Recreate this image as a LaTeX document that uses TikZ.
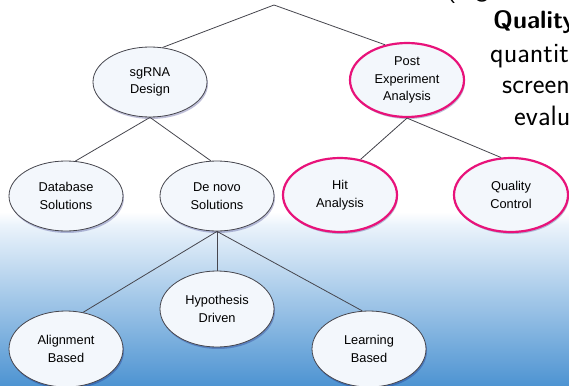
\documentclass[tikz,border=0pt]{standalone}
\usepackage{fontspec}
\newfontfamily\nodefont{Liberation Sans}
\usetikzlibrary{shapes.geometric,shadows}
\definecolor{pinkb}{RGB}{232,18,122}
\definecolor{nfill}{RGB}{243,247,252}
\definecolor{bluetop}{RGB}{238,245,252}
\definecolor{bluebot}{RGB}{78,148,210}
\definecolor{edgec}{RGB}{70,70,78}
\tikzset{
  bub/.style={ellipse, draw=edgec, line width=0.8pt, fill=nfill,
    minimum width=114pt, minimum height=70pt, inner sep=0pt, align=center,
    font=\nodefont\fontsize{12.8}{17.5}\selectfont,
    drop shadow={shadow xshift=1pt, shadow yshift=-2pt, opacity=0.25, fill=black!60!blue}},
  pinkbub/.style={bub, draw=pinkb, line width=2.2pt, minimum height=74pt},
  conn/.style={draw=edgec, line width=0.8pt},
  side/.style={anchor=base west, inner sep=0pt, font=\sffamily\fontsize{28}{32}\selectfont}
}
\begin{document}
\begin{tikzpicture}[x=1pt,y=-1pt]
\useasboundingbox (0,0) rectangle (569,385);
\clip (0,0) rectangle (569,385);
\fill[white] (0,0) rectangle (569,222);
\shade[top color=bluetop, bottom color=bluebot] (0,222) rectangle (569,385);
\shade[top color=white, bottom color=bluetop] (0,212) rectangle (569,223);

\node[side] (eg) at (446,-3) {(e.g.};
\node[side, font=\sffamily\bfseries\fontsize{25}{32}\selectfont] (qual) at (493,29) {Quality};
\node[side] (quant) at (490,63) {quantit};
\node[side] (scr) at (502,94) {screen};
\node[side] (eva) at (514,125) {evalu};

\coordinate (top) at (274,5);
\node[bub] (sg) at (150,82) {sgRNA\\Design};
\node[pinkbub] (post) at (407,80) {Post\\Experiment\\Analysis};
\node[bub] (db) at (66,196) {Database\\Solutions};
\node[bub] (dn) at (217,196) {De novo\\Solutions};
\node[pinkbub] (hit) at (340,195) {Hit\\Analysis};
\node[pinkbub] (qc) at (511,195) {Quality\\Control};
\node[bub, minimum height=76pt] (al) at (66,349) {Alignment\\Based};
\node[bub, minimum height=76pt] (hy) at (217,309) {Hypothesis\\Driven};
\node[bub, minimum height=76pt] (lb) at (369,349) {Learning\\Based};

\draw[conn] (sg.70) -- (top) -- (post.122);
\draw[conn] (db.75) -- (sg.south) -- (dn.100);
\draw[conn] (hit.60) -- (post.south) -- (qc.105);
\draw[conn] (al.65) -- (dn.south) -- (lb.100);
\draw[conn] (dn.south) -- (hy.north);
\end{tikzpicture}
\end{document}
